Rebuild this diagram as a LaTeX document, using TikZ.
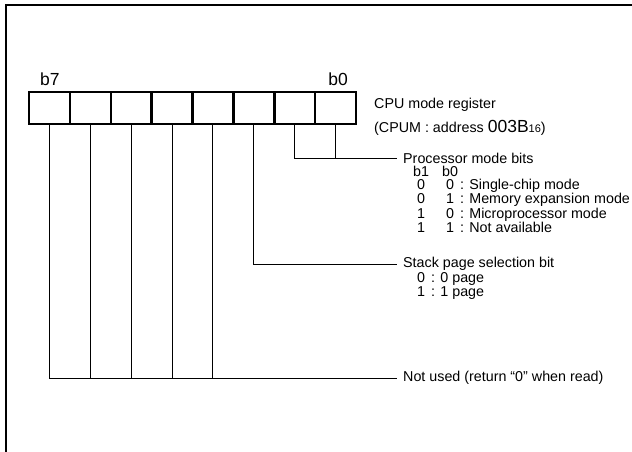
\documentclass[tikz,border=0pt]{standalone}
\usepackage{fontspec}
\setmainfont{Liberation Sans}
\newcommand{\moderow}[3]{\hbox{\hspace*{14pt}#1\hspace*{21pt}#2\hspace*{6pt}: #3}}
\newcommand{\pagerow}[2]{\hbox{\hspace*{14pt}#1\hspace*{6pt}: #2}}
\begin{document}
\begin{tikzpicture}[x=1pt, y=-1pt, font=\fontsize{14.3}{13.2}\selectfont,
  cell/.style={draw, line width=2.5pt, minimum width=40.875pt, minimum height=32pt, inner sep=0pt},
  wire/.style={line width=0.9pt},
  lbl/.style={anchor=west, inner xsep=6pt, inner ysep=0pt},
  rows/.style={anchor=base west, inner sep=0pt},
  bitno/.style={inner sep=0pt, font=\fontsize{17.5}{18}\selectfont}]
\useasboundingbox (0,0) rectangle (632,452);
\draw[line width=2pt] (5.5,452) -- (5.5,5) -- (632,5);
% register cells, c7 on the left
\foreach \i in {0,...,7}
  \node[cell] (c\i) at ({49.44+40.875*(7-\i)}, 108) {};
\node[bitno, anchor=base west] (b7) at (40,85) {b7};
\node[bitno, anchor=base east] (b0) at (348,85) {b0};
\node[anchor=base west, inner sep=0pt] (regname) at (374,108) {CPU mode register};
\node[anchor=base west, inner sep=0pt] (regaddr) at (374,132)
  {(CPUM : address {\fontsize{17.5}{17}\selectfont 003B}{\fontsize{11}{10}\selectfont 16})};
% bit descriptions
\node[lbl] (procbits) at (397,158) {Processor mode bits};
\node[rows] (procrows) at ([xshift=6pt,yshift=-13.2pt]procbits.base west)
  {\vtop{\hbox{\hspace*{10pt}b1\hspace*{13pt}b0}
    \moderow{0}{0}{Single-chip mode}
    \moderow{0}{1}{Memory expansion mode}
    \moderow{1}{0}{Microprocessor mode}
    \moderow{1}{1}{Not available}}};
\node[lbl] (stackbit) at (397,264) {Stack page selection bit};
\node[rows] (stackrows) at ([xshift=6pt,yshift=-14.5pt]stackbit.base west)
  {\vtop{\baselineskip=14.5pt
    \pagerow{0}{0 page}
    \pagerow{1}{1 page}}};
\node[lbl] (notused) at (397,378) {Not used (return ``0'' when read)};
% connectors
\draw[wire] (c1.south) |- (procbits.west);
\draw[wire] (c0.south) -- (c0.south |- procbits.west);
\draw[wire] (c2.south) |- (stackbit.west);
\foreach \i in {3,...,7}
  \draw[wire] (c\i.south) |- (notused.west);
\end{tikzpicture}
\end{document}
